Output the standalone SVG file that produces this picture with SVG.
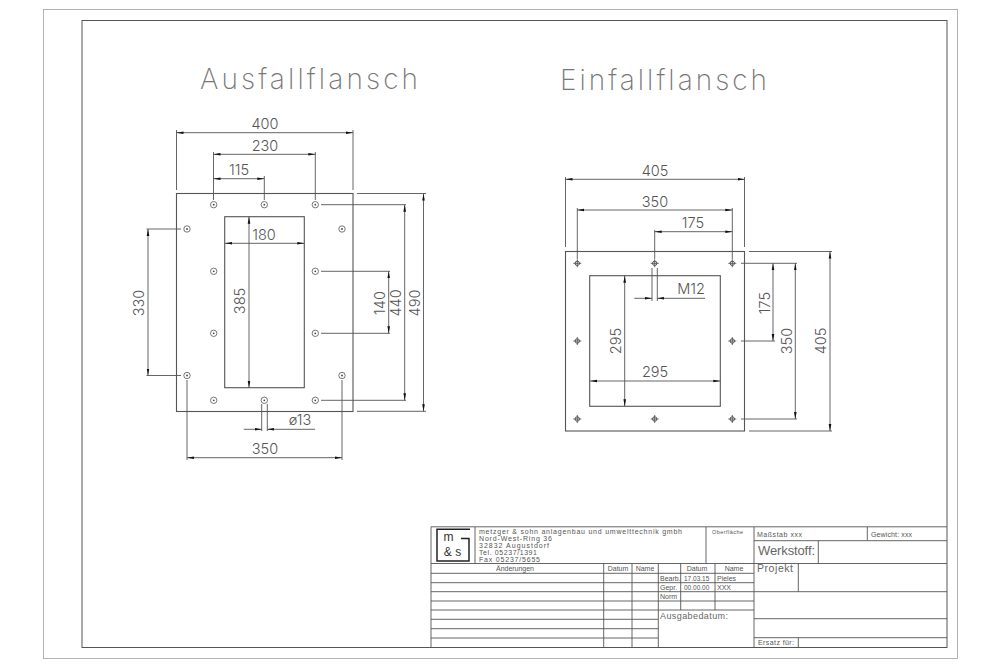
<svg xmlns="http://www.w3.org/2000/svg" width="1000" height="667" viewBox="0 0 1000 667">
<style>
.bg{fill:#fff}
.pl{fill:none;stroke:#555;stroke-width:1.1}
.ln{fill:none;stroke:#555;stroke-width:.9}
.dm{fill:none;stroke:#555;stroke-width:.9}
.ar{marker-end:url(#arr)}
.ar2{marker-start:url(#arr);marker-end:url(#arr)}
text{font-family:"Liberation Sans",Arial,sans-serif;fill:#666}
.d{font-family:Inter,"Liberation Sans",sans-serif;font-weight:300;font-size:14.5px;text-anchor:middle;fill:#555}
.t{font-family:Inter,"Liberation Sans",sans-serif;font-weight:200;font-size:28px;fill:#777}
.s{font-size:7px;fill:#555}
.c{text-anchor:middle}
</style>
<defs>
<marker id="arr" markerUnits="userSpaceOnUse" markerWidth="9" markerHeight="4" refX="7" refY="2" orient="auto-start-reverse" viewBox="0 0 9 4"><path d="M0,.7 L7,2 L0,3.3Z" fill="#111"/></marker>
<g id="h1"><circle r="3.2" fill="none" stroke="#555" stroke-width=".8"/><circle r=".9" fill="#444"/></g>
<g id="h2"><circle r="2.2" fill="none" stroke="#444" stroke-width=".9"/><path d="M-4,0H4M0,-4V4" stroke="#444" stroke-width=".8"/></g>
</defs>
<rect class="bg" width="1000" height="667"/>
<g id="frame">
<rect x="43.5" y="9.5" width="914" height="649" fill="none" stroke="#aaa" stroke-width=".9"/>
<rect x="82" y="20.5" width="865" height="627" fill="none" stroke="#555" stroke-width="1"/>
</g>
<g id="titles">
<text class="t" x="200" y="89" textLength="218">Ausfallflansch</text>
<text class="t" x="560" y="90" textLength="207">Einfallflansch</text>
</g>
<g id="ausfallflansch">
<rect class="pl" x="176.5" y="193.5" width="176.500" height="218"/>
<rect class="pl" x="224.700" y="216.700" width="79.600" height="171"/>
<g id="holes-a">
<use href="#h1" x="213.700" y="204.700"/><use href="#h1" x="264.300" y="204.700"/><use href="#h1" x="315.300" y="204.700"/>
<use href="#h1" x="187" y="229"/><use href="#h1" x="342" y="229"/>
<use href="#h1" x="213.700" y="271.300"/><use href="#h1" x="315.300" y="271.300"/>
<use href="#h1" x="213.700" y="333.300"/><use href="#h1" x="315.300" y="333.300"/>
<use href="#h1" x="187" y="375.500"/><use href="#h1" x="342" y="375.500"/>
<use href="#h1" x="213.700" y="400.300"/><use href="#h1" x="264.300" y="400.300"/><use href="#h1" x="315.300" y="400.300"/>
</g>
</g>
<g id="connectors-a">
<path class="dm" d="M176.500,130V190M353,130V190M213.500,152V200M315.300,152V200M264.300,176V200M357,193.500H426M321,204.700H406M321,400.300H406M321,271.300H390M321,333.300H390M357,411.300H426M146.500,229H181M146.500,375.500H181M187,380V460M342,380V460M261.700,404V431M267.300,404V431"/>
<path class="dm ar2" d="M176.500,132.700H353"/>
<path class="dm ar2" d="M213.500,154.300H315.300"/>
<path class="dm ar2" d="M213.500,178.700H264.300"/>
<path class="dm ar2" d="M423.500,193.500V411.300"/>
<path class="dm ar2" d="M404.700,204.700V400.300"/>
<path class="dm ar2" d="M388.700,271.300V333.300"/>
<path class="dm ar2" d="M148,229V375.500"/>
<path class="dm ar2" d="M249,216.700V387.700"/>
<path class="dm ar2" d="M225,243.300H304.300"/>
<path class="dm ar2" d="M187,457.700H342"/>
<path class="dm ar" d="M243.700,429.300H261.700"/>
<path class="dm ar" d="M315,429.300H267.300"/>
</g>
<g id="labels-a">
<text class="d" x="265" y="129">400</text>
<text class="d" x="265" y="151">230</text>
<text class="d" x="239" y="175">115</text>
<text class="d" x="264" y="240">180</text>
<text class="d" x="300" y="425">ø13</text>
<text class="d" x="265" y="454">350</text>
<text class="d" transform="rotate(-90 144 303)" x="144" y="303">330</text>
<text class="d" transform="rotate(-90 245 301)" x="245" y="301">385</text>
<text class="d" transform="rotate(-90 385 303)" x="385" y="303">140</text>
<text class="d" transform="rotate(-90 401 303)" x="401" y="303">440</text>
<text class="d" transform="rotate(-90 420 303)" x="420" y="303">490</text>
</g>
<g id="einfallflansch">
<rect class="pl" x="565.500" y="251.500" width="179" height="179.500"/>
<rect class="pl" x="589.700" y="275.700" width="130.600" height="130.600"/>
<g id="holes-e">
<use href="#h2" x="577.300" y="263.300"/><use href="#h2" x="654.700" y="263.300"/><use href="#h2" x="732.300" y="263.300"/>
<use href="#h2" x="577.300" y="341"/><use href="#h2" x="732.300" y="341"/>
<use href="#h2" x="577.300" y="419"/><use href="#h2" x="654.700" y="419"/><use href="#h2" x="732.300" y="419"/>
</g>
</g>
<g id="connectors-e">
<path class="dm" d="M565.500,177V247M744.500,177V247M577.300,208V259M732.300,208V259M654.700,230V259M652,268V301M657.300,268V301M749,251.500H832M741,263.300H797M741,341H775M741,419H797M749,431H832"/>
<path class="dm ar2" d="M565.500,179.300H744.500"/>
<path class="dm ar2" d="M577.300,210H732.300"/>
<path class="dm ar2" d="M654.700,231.700H732.300"/>
<path class="dm ar" d="M634.300,298.300H652"/>
<path class="dm ar" d="M705,298.300H657.300"/>
<path class="dm ar2" d="M624.700,275.700V406.300"/>
<path class="dm ar2" d="M590,381H720.300"/>
<path class="dm ar2" d="M773,263.300V341"/>
<path class="dm ar2" d="M795.300,263.300V419"/>
<path class="dm ar2" d="M830,251.500V431"/>
</g>
<g id="labels-e">
<text class="d" x="655" y="175.500">405</text>
<text class="d" x="655" y="206.500">350</text>
<text class="d" x="693" y="228">175</text>
<text class="d" x="691" y="294">M12</text>
<text class="d" x="655" y="377">295</text>
<text class="d" transform="rotate(-90 621 341)" x="621" y="341">295</text>
<text class="d" transform="rotate(-90 770 303)" x="770" y="303">175</text>
<text class="d" transform="rotate(-90 791.500 341)" x="791.500" y="341">350</text>
<text class="d" transform="rotate(-90 826 341)" x="826" y="341">405</text>
</g>
<g id="titleblock">
<path class="ln" d="M431,526.800H947M431,526.800V647.500M431,563.500H947M431,573.300H754M431,582.700H754M431,591.700H947M431,601H754M431,610H754M431,619.300H658M431,628.700H658M431,638H658M754,540.700H947M754,618.700H947M754,637.700H947M475,527V563.500M706,527V563.500M867.300,527V540.700M818.300,540.700V563.500M798.300,563.500V591.700M798.300,637.700V647.500M603.700,563.500V647.500M632,563.500V647.500M658.300,563.500V647.500M680.700,563.500V610M715,563.500V610M754,527V647.500"/>
<path d="M470,529.300H437V561H469V538.500H461" fill="none" stroke="#222" stroke-width="1.500"/>
<text x="448.500" y="541" class="c" font-size="12" style="fill:#333">m</text>
<text x="452.500" y="556" class="c" font-size="12" style="fill:#333">&amp; s</text>
<text class="s" x="479" y="533.500" textLength="203">metzger &amp; sohn anlagenbau und umwelttechnik gmbh</text>
<text class="s" x="479" y="540.700" textLength="73">Nord-West-Ring 36</text>
<text class="s" x="479" y="548" textLength="70">32832 Augustdorf</text>
<text class="s" x="479" y="555" textLength="58">Tel. 05237/1391</text>
<text class="s" x="479" y="562" textLength="61">Fax 05237/5655</text>
<text class="s c" x="515" y="571" textLength="38">Änderungen</text>
<text class="s c" x="618" y="571">Datum</text>
<text class="s c" x="645" y="571">Name</text>
<text class="s c" x="697" y="571">Datum</text>
<text class="s c" x="734" y="571">Name</text>
<text class="s" x="660" y="580.500">Bearb.</text>
<text class="s" x="660" y="589.500">Gepr.</text>
<text class="s" x="660" y="598.500">Norm</text>
<text class="s" x="684" y="580.500" style="font-size:6.5px">17.03.15</text>
<text class="s" x="684" y="589.500" style="font-size:6.5px">00.00.00</text>
<text class="s" x="717" y="580.500">Pieles</text>
<text class="s" x="717" y="589.500">XXX</text>
<text x="660" y="618.700" font-size="9" textLength="68">Ausgabedatum:</text>
<text class="s" x="712" y="534" style="font-size:5.5px" textLength="31">Oberfläche</text>
<text class="s" x="757" y="536.700" textLength="45">Maßstab  xxx</text>
<text class="s" x="871" y="536.700" textLength="41">Gewicht: xxx</text>
<text x="758" y="555.300" font-size="13" textLength="57">Werkstoff:</text>
<text x="757" y="571.700" font-size="10.500" textLength="36">Projekt</text>
<text class="s" x="758" y="645" textLength="36">Ersatz für:</text>
</g>
</svg>
